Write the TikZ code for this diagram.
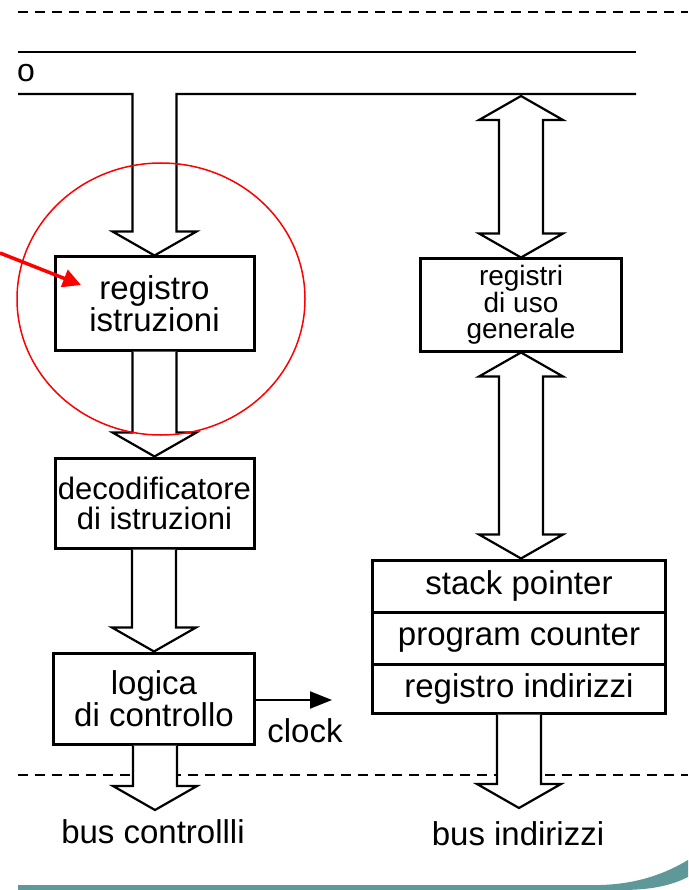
\documentclass[tikz,border=0pt]{standalone}
\usepackage{fontspec}
\setmainfont{Liberation Sans}
\usetikzlibrary{arrows.meta,calc}
\definecolor{swoosh}{RGB}{94,152,152}
\tikzset{
  box/.style={draw, line width=3pt, fill=white, inner sep=0pt, align=center, font=\fontsize{33}{29}\selectfont},
  rowbox/.style={draw, line width=3pt, fill=white, inner sep=0pt, minimum width=293pt, font=\fontsize{33}{33}\selectfont},
  barrow/.style={draw, fill=white, line width=2.2pt, line join=miter},
  busline/.style={line width=2pt},
  dashline/.style={line width=2.3pt, dash pattern=on 10pt off 7pt},
  lbl/.style={inner sep=0pt, font=\fontsize{33}{33}\selectfont},
  redmark/.style={draw=red, line width=1.5pt}
}
\newcommand\BlkDown[2]{%
  \path[barrow] let \p1=(#1), \p2=(#2) in
    (\x2-22pt,\y1) -- (\x2-22pt,\y2+24pt) -- (\x2-42pt,\y2+24pt) -- (\x2,\y2)
    -- (\x2+42pt,\y2+24pt) -- (\x2+22pt,\y2+24pt) -- (\x2+22pt,\y1);}
\newcommand\BlkDouble[2]{%
  \path[barrow] let \p1=(#1), \p2=(#2) in
    (\x1,\y1) -- (\x1+42pt,\y1-24pt) -- (\x1+22pt,\y1-24pt) -- (\x1+22pt,\y2+24pt)
    -- (\x1+42pt,\y2+24pt) -- (\x1,\y2) -- (\x1-42pt,\y2+24pt) -- (\x1-22pt,\y2+24pt)
    -- (\x1-22pt,\y1-24pt) -- (\x1-42pt,\y1-24pt) -- cycle;}
\begin{document}
\begin{tikzpicture}[x=1pt,y=-1pt]
\useasboundingbox (0,0) rectangle (688,890);
\fill[white] (0,0) rectangle (688,890);

% coordinates
\coordinate (dashTL) at (18,12);
\coordinate (dashTR) at (688,12);
\coordinate (dashBL) at (18,775);
\coordinate (dashBR) at (688,775);
\coordinate (bus1L) at (18,52);
\coordinate (bus1R) at (636,52);
\coordinate (bus2L) at (18,94);
\coordinate (bus2R) at (636,94);
\coordinate (top2) at (521,96);
\coordinate (busc) at (155,810);
\coordinate (busi) at (519,808);
\coordinate (clkend) at (332,700);
\coordinate (redS) at (0,253);
\coordinate (redT) at (81,285);

% dashed separators
\draw[dashline] (dashTL) -- (dashTR);
\draw[dashline, line width=2pt] (dashBL) -- (dashBR);

% buses
\draw[busline] (bus1L) -- (bus1R);

% boxes
\node[box, minimum width=199pt, minimum height=93pt] (reg) at (154.5,303.5) {registro\\istruzioni};
\node[box, minimum width=199pt, minimum height=90pt, font=\fontsize{31}{30}\selectfont] (dec) at (154.5,503) {decodificatore\\di istruzioni};
\node[box, minimum width=201pt, minimum height=91pt] (log) at (154,698.5) {logica\\di controllo};
\node[box, minimum width=201pt, minimum height=92pt, font=\fontsize{28}{26}\selectfont] (gen) at (521,305) {registri\\di uso\\generale};
\node[rowbox, minimum height=52pt] (sp) at (519,586) {stack pointer};
\node[rowbox, minimum height=52pt] (pc) at (519,638) {program counter};
\node[rowbox, minimum height=49pt] (ri) at (519,688.5) {registro indirizzi};

% top bus with arrow into registro istruzioni
\draw[barrow, fill=none] let \p1=(reg.north), \p2=(bus2L), \p3=(bus2R) in
  (\p2) -- (\x1-22pt,\y2) -- (\x1-22pt,\y1+24pt) -- (\x1-42pt,\y1+24pt) -- (\p1)
  -- (\x1+42pt,\y1+24pt) -- (\x1+22pt,\y1+24pt) -- (\x1+22pt,\y3) -- (\p3);

% block arrows
\BlkDown{reg.south}{dec.north}
\BlkDown{dec.south}{log.north}
\BlkDown{log.south}{busc}
\BlkDown{ri.south}{busi}
\BlkDouble{top2}{gen.north}
\BlkDouble{gen.south}{sp.north}

% clock
\draw[line width=2pt, -{Triangle[length=22pt,width=17pt]}] (log.east |- clkend) -- (clkend);
\node[lbl] (clk) at (305,731) {clock};

% labels
\node[lbl] (bc) at (153,832) {bus controllli};
\node[lbl] (bi) at (518,834) {bus indirizzi};
\node[inner sep=0pt, anchor=base west, font=\fontsize{32}{32}\selectfont] (o) at (17,82) {o};

% red highlight
\draw[redmark] (161,299) ellipse [x radius=144pt, y radius=136pt];
\draw[red, line width=3.5pt, -{Triangle[length=18pt,width=18pt]}] (redS) -- (redT);

% bottom swoosh
\fill[swoosh] (18,885) -- (600,885) .. controls (640,884) and (668,872) .. (688,860)
  -- (688,877) .. controls (670,886) and (650,890) .. (620,890) -- (18,890) -- cycle;
\end{tikzpicture}
\end{document}
